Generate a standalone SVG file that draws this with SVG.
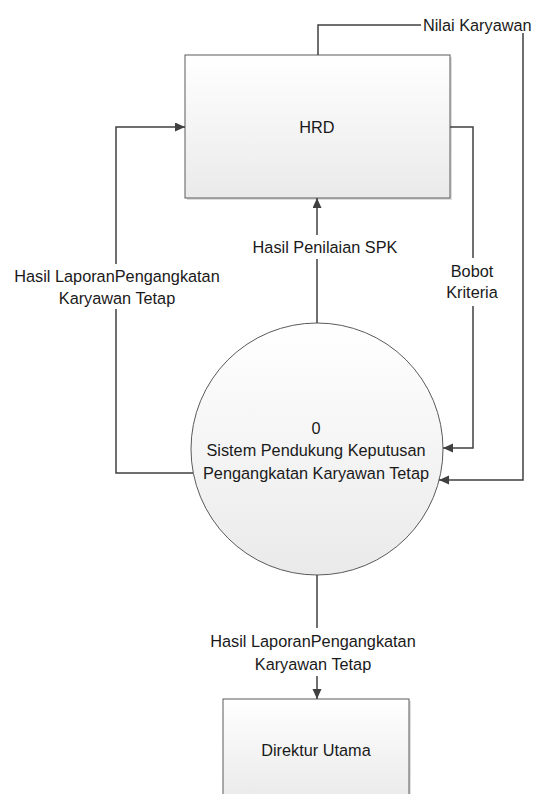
<svg xmlns="http://www.w3.org/2000/svg" width="533" height="794" viewBox="0 0 533 794">
<style>
text{font-family:"Liberation Sans",Arial,sans-serif;font-size:16.3px;fill:#1a1a1a}
.c{text-anchor:middle}
.ln{fill:none;stroke:#404040;stroke-width:1.5}
.box{stroke:#5a5a5a;stroke-width:1;fill:url(#g)}
.sh{fill:#c8c8c8;opacity:0.6}
</style>
<defs>
<linearGradient id="g" x1="0" y1="0" x2="0" y2="1">
<stop offset="0" stop-color="#ffffff"/>
<stop offset="1" stop-color="#eaeaea"/>
</linearGradient>
<marker id="a" markerUnits="userSpaceOnUse" markerWidth="11" markerHeight="10" refX="10" refY="4.5" orient="auto">
<path d="M0,0 L10,4.5 L0,9 z" fill="#404040"/>
</marker>
</defs>
<rect width="533" height="794" fill="#ffffff"/>
<g id="hrd">
<rect class="sh" x="187" y="57" width="265" height="143"/>
<rect class="box" x="185" y="55" width="265" height="143"/>
<text class="c" x="317" y="133">HRD</text>
</g>
<g id="proses">
<circle cx="317" cy="449" r="126" stroke="#5a5a5a" stroke-width="1" fill="url(#g)"/>
<text class="c" x="316" y="434">0</text>
<text class="c" x="316" y="456">Sistem Pendukung Keputusan</text>
<text class="c" x="316" y="479">Pengangkatan Karyawan Tetap</text>
</g>
<g id="direktur">
<rect class="sh" x="225" y="701" width="186" height="100"/>
<rect class="box" x="223" y="699" width="186" height="100"/>
<text class="c" x="316" y="756">Direktur Utama</text>
</g>
<g id="connectors">
<polyline class="ln" points="318,55 318,25 421,25"/>
<polyline class="ln" points="523,33 523,480 439,480" marker-end="url(#a)"/>
<polyline class="ln" points="450,127 473,127 473,258"/>
<polyline class="ln" points="473,306 473,448 443,448" marker-end="url(#a)"/>
<polyline class="ln" points="317,323 317,259"/>
<polyline class="ln" points="317,235 317,198" marker-end="url(#a)"/>
<polyline class="ln" points="193,473 116,473 116,309"/>
<polyline class="ln" points="116,264 116,127 185,127" marker-end="url(#a)"/>
<polyline class="ln" points="317,575 317,628"/>
<polyline class="ln" points="317,676 317,699" marker-end="url(#a)"/>
</g>
<g id="labels">
<text x="423" y="31">Nilai Karyawan</text>
<text class="c" x="325" y="253">Hasil Penilaian SPK</text>
<text class="c" x="472" y="277">Bobot</text>
<text class="c" x="472" y="298">Kriteria</text>
<text class="c" x="117" y="282">Hasil LaporanPengangkatan</text>
<text class="c" x="117" y="304">Karyawan Tetap</text>
<text class="c" x="313" y="647">Hasil LaporanPengangkatan</text>
<text class="c" x="313" y="670">Karyawan Tetap</text>
</g>
</svg>
